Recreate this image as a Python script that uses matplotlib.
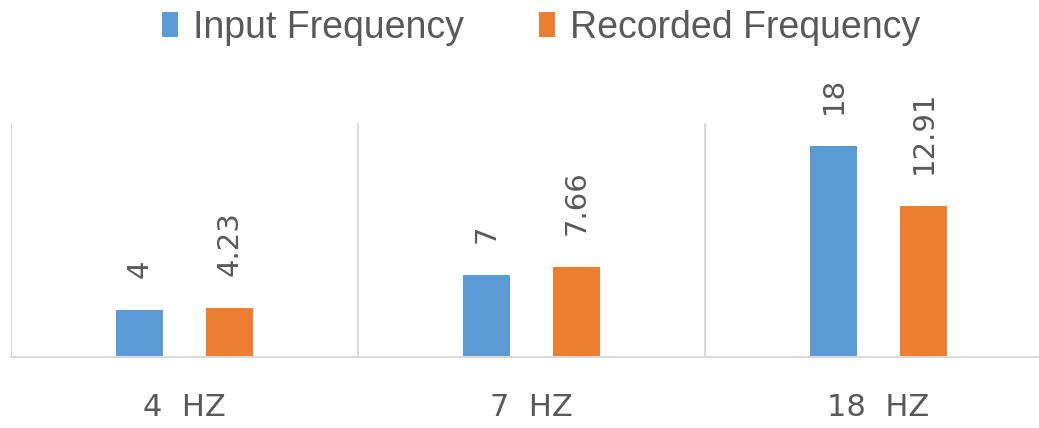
import numpy as np
import matplotlib.pyplot as plt

plt.rcParams['font.family'] = ['DejaVu Sans']

categories = ['4  HZ', '7  HZ', '18  HZ']
input_freq = [4, 7, 18]
recorded_freq = [4.23, 7.66, 12.91]
input_labels = ['4', '7', '18']
recorded_labels = ['4.23', '7.66', '12.91']

blue = '#5B9BD5'
orange = '#ED7D31'
grid_grey = '#D9D9D9'
text_grey = '#595959'

fig = plt.figure(figsize=(10.39, 4.28), dpi=100)
# plot area runs a little past the right edge, like the cropped sheet
ax = fig.add_axes([11 / 1039, 71 / 428, 3 * 347 / 1039, 234 / 428])

x = np.arange(len(categories))
width = 0.135
offset = 0.13
b1 = ax.bar(x - offset, input_freq, width, color=blue, label='Input Frequency')
b2 = ax.bar(x + offset, recorded_freq, width, color=orange, label='Recorded Frequency')

for bars, labels in ((b1, input_labels), (b2, recorded_labels)):
    ax.bar_label(bars, labels=labels, rotation=90, padding=23,
                 fontsize=21, color=text_grey)

ax.set_xlim(-0.5, 2.5)
ax.set_ylim(0, 20)

# category separators
for sep in np.arange(-0.5, 3, 1.0):
    ax.axvline(sep, color=grid_grey, lw=1.5, zorder=0)

for s in ('top', 'right', 'left'):
    ax.spines[s].set_visible(False)
ax.spines['bottom'].set_color(grid_grey)
ax.spines['bottom'].set_linewidth(1.5)

ax.set_yticks([])
ax.set_xticks(x)
ax.set_xticklabels(categories, fontsize=22, color=text_grey)
ax.tick_params(axis='x', length=0, pad=26)

fig.legend(handles=[b1, b2], loc='center', bbox_to_anchor=(0.521, 0.935),
           ncol=2, frameon=False, labelcolor=text_grey,
           prop={'family': 'Liberation Sans', 'size': 27},
           handlelength=0.43, handleheight=0.64, handletextpad=0.4,
           columnspacing=2.0, borderpad=0)

fig.savefig('out.png', dpi=100)
